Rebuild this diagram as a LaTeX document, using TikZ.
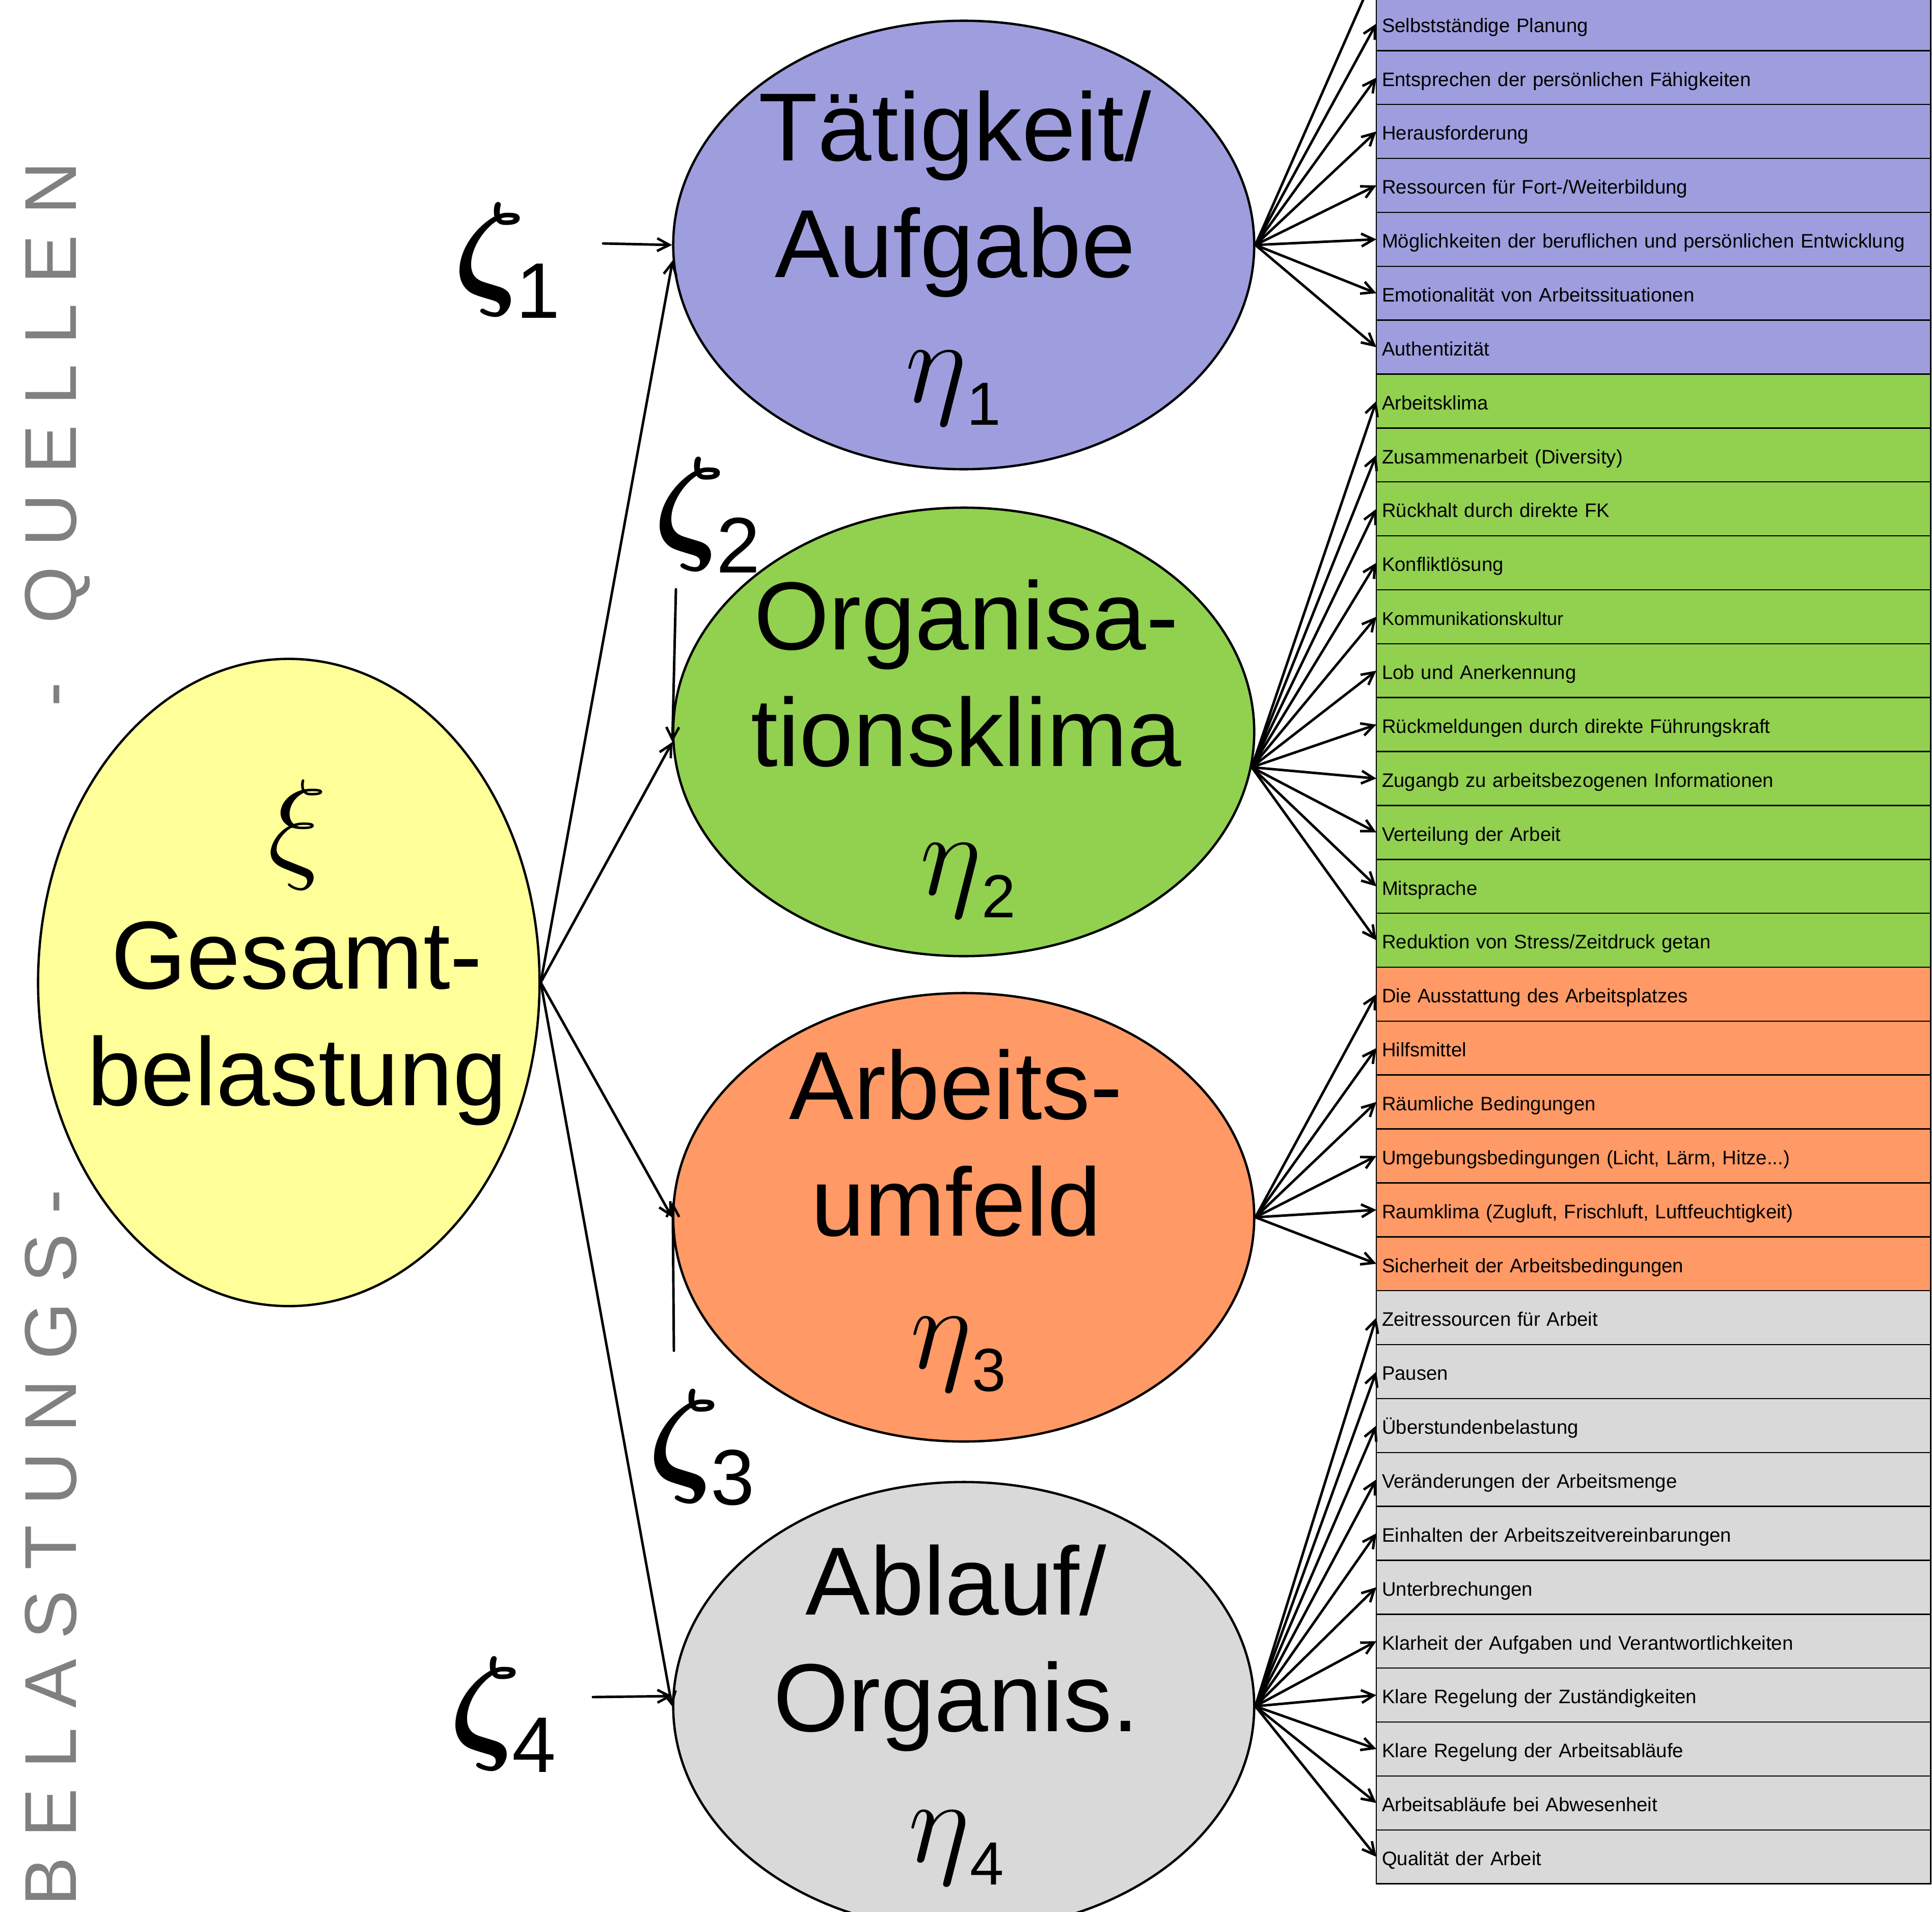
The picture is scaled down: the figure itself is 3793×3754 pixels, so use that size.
\RequirePackage{fix-cm}
\documentclass[tikz,border=0pt]{standalone}
\usepackage{fontspec}
\setmainfont{Liberation Sans}
\usetikzlibrary{shapes.geometric,arrows.meta}
\definecolor{lila}{RGB}{158,158,222}
\definecolor{gruen}{RGB}{146,208,80}
\definecolor{lachs}{RGB}{255,153,102}
\definecolor{hellgrau}{RGB}{217,217,217}
\definecolor{gelb}{RGB}{255,255,153}
\definecolor{schrift}{RGB}{128,128,128}
\newcommand{\zet}[1]{{\fontsize{71}{71}\selectfont\boldmath$\zeta$}\kern-0.2cm\raisebox{-0.52cm}{\fontsize{44}{44}\selectfont #1}}
\newcommand{\etx}[1]{{\fontsize{66}{66}\selectfont$\eta$}\raisebox{-0.45cm}{\fontsize{34}{34}\selectfont #1}}

\begin{document}
\begin{tikzpicture}[x=0.01cm,y=-0.01cm,
  faktor/.style={ellipse,draw,line width=1.3pt,minimum width=11.4cm,minimum height=8.8cm,inner sep=0},
  gross/.style={font=\fontsize{54}{65}\selectfont,align=center,inner sep=0},
  zeile/.style={draw,line width=0.7pt,outer sep=0,anchor=north west,minimum width=10.88cm,
    minimum height=1.0586cm,text width=10.66cm,align=left,inner xsep=0.11cm,inner ysep=0,
    text height=0.345cm,text depth=0.01cm,font=\fontsize{10.9}{12}\selectfont},
  pfeil/.style={-{Straight Barb[length=0.24cm,width=0.25cm]},line width=1.4pt,line cap=round},
  zetabox/.style={inner sep=0,anchor=south west},
  senkrecht/.style={rotate=90,text=schrift,font=\fontsize{41}{41}\selectfont,inner sep=0}]
\useasboundingbox (0,0) rectangle (3793,3754);
\clip (0,0) rectangle (3793,3754);

% Faktoren
\node[faktor,fill=gelb,minimum width=9.84cm,minimum height=12.7cm] (gesamt) at (567,1929) {};
\node[faktor,fill=lila] (taetig) at (1892,481) {};
\node[faktor,fill=gruen] (klima) at (1892,1437) {};
\node[faktor,fill=lachs] (umfeld) at (1892,2390) {};
\node[faktor,fill=hellgrau] (ablauf) at (1892,3350) {};

% Items
\coordinate (a0) at (2702,-59);
\node[zeile,fill=lila] (a1) at (2702,-6.5) {Selbstständige Planung};
\node[zeile,fill=lila] (a2) at (2702,99.4) {Entsprechen der persönlichen Fähigkeiten};
\node[zeile,fill=lila] (a3) at (2702,205.2) {Herausforderung};
\node[zeile,fill=lila] (a4) at (2702,311.1) {Ressourcen für Fort-/Weiterbildung};
\node[zeile,fill=lila] (a5) at (2702,416.9) {Möglichkeiten der beruflichen und persönlichen Entwicklung};
\node[zeile,fill=lila] (a6) at (2702,522.8) {Emotionalität von Arbeitssituationen};
\node[zeile,fill=lila] (a7) at (2702,628.7) {Authentizität};
\node[zeile,fill=gruen] (b1) at (2702,734.5) {Arbeitsklima};
\node[zeile,fill=gruen] (b2) at (2702,840.4) {Zusammenarbeit (Diversity)};
\node[zeile,fill=gruen] (b3) at (2702,946.2) {Rückhalt durch direkte FK};
\node[zeile,fill=gruen] (b4) at (2702,1052.1) {Konfliktlösung};
\node[zeile,fill=gruen,font=\fontsize{10.3}{12}\selectfont] (b5) at (2702,1158.0) {Kommunikationskultur};
\node[zeile,fill=gruen] (b6) at (2702,1263.8) {Lob und Anerkennung};
\node[zeile,fill=gruen] (b7) at (2702,1369.7) {Rückmeldungen durch direkte Führungskraft};
\node[zeile,fill=gruen] (b8) at (2702,1475.5) {Zugangb zu arbeitsbezogenen Informationen};
\node[zeile,fill=gruen] (b9) at (2702,1581.4) {Verteilung der Arbeit};
\node[zeile,fill=gruen] (b10) at (2702,1687.3) {Mitsprache};
\node[zeile,fill=gruen] (b11) at (2702,1793.1) {Reduktion von Stress/Zeitdruck getan};
\node[zeile,fill=lachs] (c1) at (2702,1899.0) {Die Ausstattung des Arbeitsplatzes};
\node[zeile,fill=lachs] (c2) at (2702,2004.8) {Hilfsmittel};
\node[zeile,fill=lachs] (c3) at (2702,2110.7) {Räumliche Bedingungen};
\node[zeile,fill=lachs] (c4) at (2702,2216.6) {Umgebungsbedingungen (Licht, Lärm, Hitze...)};
\node[zeile,fill=lachs] (c5) at (2702,2322.4) {Raumklima (Zugluft, Frischluft, Luftfeuchtigkeit)};
\node[zeile,fill=lachs] (c6) at (2702,2428.3) {Sicherheit der Arbeitsbedingungen};
\node[zeile,fill=hellgrau] (d1) at (2702,2534.1) {Zeitressourcen für Arbeit};
\node[zeile,fill=hellgrau] (d2) at (2702,2640.0) {Pausen};
\node[zeile,fill=hellgrau] (d3) at (2702,2745.9) {Überstundenbelastung};
\node[zeile,fill=hellgrau] (d4) at (2702,2851.7) {Veränderungen der Arbeitsmenge};
\node[zeile,fill=hellgrau] (d5) at (2702,2957.6) {Einhalten der Arbeitszeitvereinbarungen};
\node[zeile,fill=hellgrau] (d6) at (2702,3063.4) {Unterbrechungen};
\node[zeile,fill=hellgrau] (d7) at (2702,3169.3) {Klarheit der Aufgaben und Verantwortlichkeiten};
\node[zeile,fill=hellgrau] (d8) at (2702,3275.2) {Klare Regelung der Zuständigkeiten};
\node[zeile,fill=hellgrau] (d9) at (2702,3381.0) {Klare Regelung der Arbeitsabläufe};
\node[zeile,fill=hellgrau] (d10) at (2702,3486.9) {Arbeitsabläufe bei Abwesenheit};
\node[zeile,fill=hellgrau] (d11) at (2702,3592.7) {Qualität der Arbeit};

% Pfeile Gesamtbelastung
\draw[pfeil] (gesamt.east) -- (taetig.183.6);
\draw[pfeil] (gesamt.east) -- (klima.182.7);
\draw[pfeil] (gesamt.east) -- (umfeld.west);
\draw[pfeil] (gesamt.east) -- (ablauf.west);

% Residuen
\coordinate (z1) at (1184,478);
\coordinate (z2) at (1327,1157);
\coordinate (z3) at (1323,2652);
\coordinate (z4) at (1164,3332);
\draw[pfeil] (z1) -- (taetig.west);
\draw[pfeil] (z2) -- (klima.182);
\draw[pfeil] (z3) -- (umfeld.177.5);
\draw[pfeil] (z4) -- (ablauf.178);

% Faecher
\draw[pfeil] (taetig.east) -- (a0);
\draw[pfeil] (taetig.east) -- (a1.west);
\draw[pfeil] (taetig.east) -- (a2.west);
\draw[pfeil] (taetig.east) -- (a3.west);
\draw[pfeil] (taetig.east) -- (a4.west);
\draw[pfeil] (taetig.east) -- (a5.west);
\draw[pfeil] (taetig.east) -- (a6.west);
\draw[pfeil] (taetig.east) -- (a7.west);
\draw[pfeil] (klima.-7) -- (b1.west);
\draw[pfeil] (klima.-7) -- (b2.west);
\draw[pfeil] (klima.-7) -- (b3.west);
\draw[pfeil] (klima.-7) -- (b4.west);
\draw[pfeil] (klima.-7) -- (b5.west);
\draw[pfeil] (klima.-7) -- (b6.west);
\draw[pfeil] (klima.-7) -- (b7.west);
\draw[pfeil] (klima.-7) -- (b8.west);
\draw[pfeil] (klima.-7) -- (b9.west);
\draw[pfeil] (klima.-7) -- (b10.west);
\draw[pfeil] (klima.-7) -- (b11.west);
\draw[pfeil] (umfeld.east) -- (c1.west);
\draw[pfeil] (umfeld.east) -- (c2.west);
\draw[pfeil] (umfeld.east) -- (c3.west);
\draw[pfeil] (umfeld.east) -- (c4.west);
\draw[pfeil] (umfeld.east) -- (c5.west);
\draw[pfeil] (umfeld.east) -- (c6.west);
\draw[pfeil] (ablauf.east) -- (d1.west);
\draw[pfeil] (ablauf.east) -- (d2.west);
\draw[pfeil] (ablauf.east) -- (d3.west);
\draw[pfeil] (ablauf.east) -- (d4.west);
\draw[pfeil] (ablauf.east) -- (d5.west);
\draw[pfeil] (ablauf.east) -- (d6.west);
\draw[pfeil] (ablauf.east) -- (d7.west);
\draw[pfeil] (ablauf.east) -- (d8.west);
\draw[pfeil] (ablauf.east) -- (d9.west);
\draw[pfeil] (ablauf.east) -- (d10.west);
\draw[pfeil] (ablauf.east) -- (d11.west);

% Beschriftung
\node[inner sep=0,anchor=south,font=\fontsize{69}{69}\selectfont] (xi) at (584,1747) {$\xi$};
\node[gross,anchor=base] (gesamttxt) at (583,2170) {Gesamt-\\belastung};
\node[gross,anchor=base] (taetigtxt) at (1875,544) {Tätigkeit/\\Aufgabe};
\node[gross,anchor=base] (klimatxt) at (1897,1504) {Organisa-\\tionsklima};
\node[gross,anchor=base] (umfeldtxt) at (1877,2426) {Arbeits-\\umfeld};
\node[gross,anchor=base] (ablauftxt) at (1877,3399) {Ablauf/\\Organis.};
\node[inner sep=0,anchor=south] (eta1) at (1871,835) {\etx{1}};
\node[inner sep=0,anchor=south] (eta2) at (1900,1802) {\etx{2}};
\node[inner sep=0,anchor=south] (eta3) at (1881,2733) {\etx{3}};
\node[inner sep=0,anchor=south] (eta4) at (1877,3701) {\etx{4}};
\node[zetabox] (zeta1) at (890,625) {\zet{1}};
\node[zetabox] (zeta2) at (1283,1125) {\zet{2}};
\node[zetabox] (zeta3) at (1272,2957) {\zet{3}};
\node[zetabox] (zeta4) at (882,3480) {\zet{4}};

% senkrechte Schrift
\node[senkrecht,anchor=base west] (belastungs) at (149,3743) {\addfontfeature{LetterSpace=27}BELASTUNGS-};
\node[senkrecht,anchor=base] (strich) at (149,1363) {-};
\node[senkrecht,anchor=base west] (quellen) at (149,1225) {\addfontfeature{LetterSpace=27}QUELLEN};
\end{tikzpicture}
\end{document}
